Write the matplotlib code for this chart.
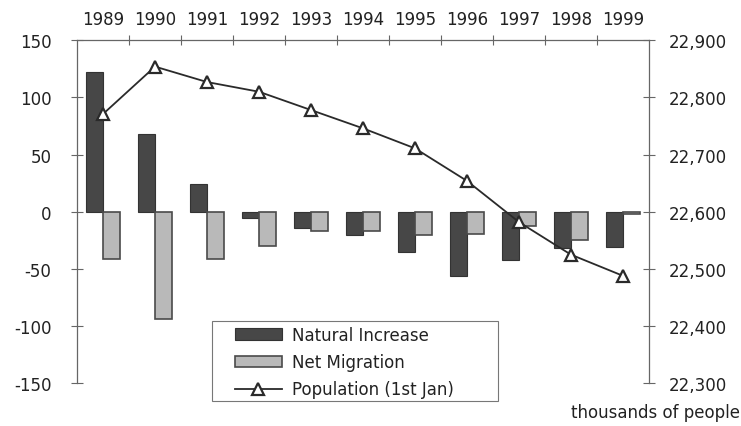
import matplotlib
matplotlib.use("Agg")
import matplotlib.pyplot as plt
import numpy as np
from matplotlib.ticker import FixedLocator, FuncFormatter
from matplotlib.patches import Rectangle

years = ["1989", "1990", "1991", "1992", "1993", "1994", "1995", "1996", "1997", "1998", "1999"]
natural_increase = [122, 68, 24, -5, -14, -20, -35, -56, -42, -32, -31]
net_migration = [-41, -94, -41, -30, -17, -17, -20, -19, -12, -25, -2]
population = [22771, 22854, 22827, 22810, 22778, 22746, 22711, 22654, 22582, 22525, 22488]
left_ticks = [-150, -100, -50, 0, 50, 100, 150]
right_ticks = [22300, 22400, 22500, 22600, 22700, 22800, 22900]

plt.rcParams['font.family'] = ['DejaVu Sans']
plt.rcParams['axes.unicode_minus'] = False
TEXT = '#222222'
SPINE = '#666666'
FS = 12
W, H = 741, 427

fig = plt.figure(figsize=(7.41, 4.27), dpi=100)
ax = fig.add_axes([77/W, 1-384.3/H, (649-77)/W, (384.3-41.3)/H])
x = np.arange(len(years))
w = 0.32
b1 = ax.bar(x - w/2, natural_increase, w, color='#474747', edgecolor='#333333', linewidth=0.8,
            label='Natural Increase', zorder=2)
b2 = ax.bar(x + w/2, net_migration, w, color='#b9b9b9', edgecolor='#4a4a4a', linewidth=1.2,
            label='Net Migration', zorder=2)
ax.set_xlim(-0.5, len(years) - 0.5)
ax.set_ylim(-150, 150)
ax.yaxis.set_major_locator(FixedLocator(left_ticks))
ax.xaxis.tick_top()
ax.set_xticks(x)
ax.set_xticklabels(years)
ax.set_xticks(x[:-1] + 0.5, minor=True)
ax.tick_params(axis='x', which='major', length=0, pad=9, labelsize=FS, colors=TEXT)
ax.tick_params(axis='x', which='minor', direction='inout', length=7, color=SPINE, width=0.8)
ax.tick_params(axis='y', direction='inout', length=9, color=SPINE, width=0.8, pad=14,
               labelsize=FS, labelcolor=TEXT)
ax.spines['bottom'].set_visible(False)
ax.spines['right'].set_visible(False)
for s in ['left', 'top']:
    ax.spines[s].set_color(SPINE)
    ax.spines[s].set_linewidth(0.9)

ax2 = ax.twinx()
ln, = ax2.plot(x, population, color='#2a2a2a', linewidth=1.3, marker='^', markersize=9,
               markerfacecolor='white', markeredgecolor='#2a2a2a', markeredgewidth=1.6,
               label='Population (1st Jan)', zorder=3)
ax2.set_ylim(22300, 22900)
ax2.yaxis.set_major_locator(FixedLocator(right_ticks))
ax2.yaxis.set_major_formatter(FuncFormatter(lambda v, p: f"{int(v):,}"))
ax2.tick_params(axis='y', direction='inout', length=9, color=SPINE, width=0.8, pad=10,
                labelsize=FS, labelcolor=TEXT)
for s in ['bottom', 'left', 'top']:
    ax2.spines[s].set_visible(False)
ax2.spines['right'].set_color(SPINE)
ax2.spines['right'].set_linewidth(0.9)

# legend frame
fig.patches.append(Rectangle((212/W, 1-402/H), 286/W, 80/H, transform=fig.transFigure,
                             fill=False, edgecolor='#777777', linewidth=0.8))
leg = ax2.legend([b1, b2, ln], ['Natural Increase', 'Net Migration', 'Population (1st Jan)'],
                 loc='upper left', bbox_to_anchor=(235/W, 1-327/H),
                 bbox_transform=fig.transFigure, borderaxespad=0, borderpad=0,
                 fontsize=FS, frameon=False,
                 handlelength=2.8, handletextpad=0.6, labelspacing=0.55,
                 labelcolor=TEXT)

fig.text(740/W, 1-413/H, 'thousands of people', ha='right', va='center', fontsize=FS, color=TEXT)

fig.savefig('out.png', dpi=100, facecolor='white')
